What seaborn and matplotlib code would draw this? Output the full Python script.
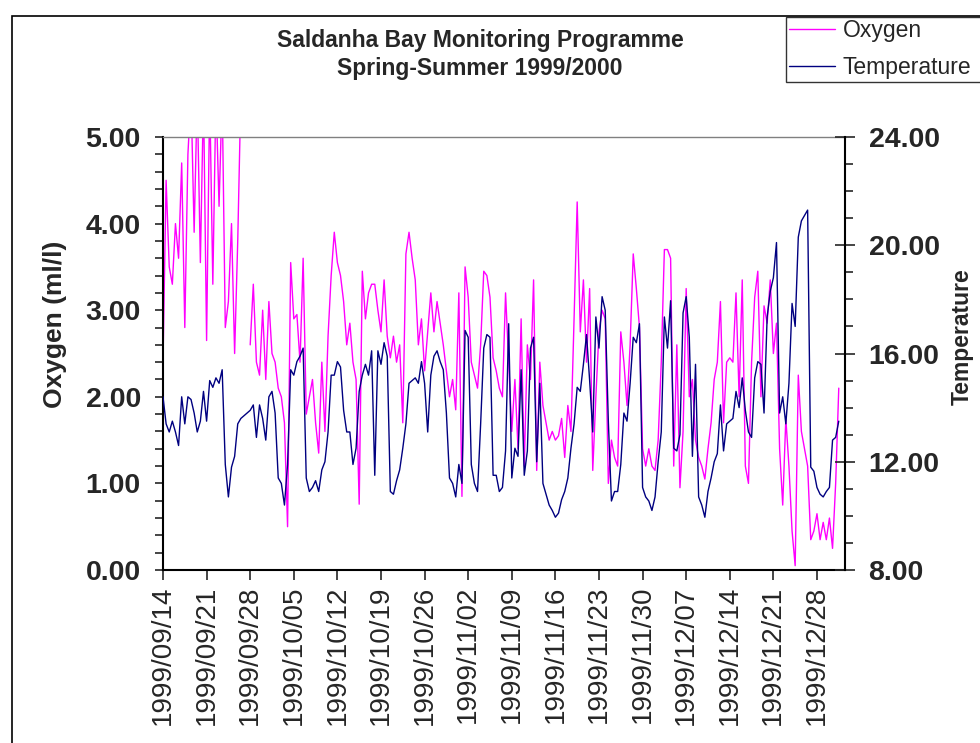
# Saldanha Bay monitoring - oxygen and temperature, spring-summer 1999/2000
import numpy as np
import pandas as pd
import matplotlib
matplotlib.use('Agg')
import matplotlib.pyplot as plt
from matplotlib.lines import Line2D
from matplotlib.patches import Rectangle
from matplotlib.ticker import MultipleLocator
import seaborn as sns

# readings every half day from 1999/09/14 00:00
start_date = '1999-09-14'
step_days = 0.5

oxygen = [
    # 09/14 - 10/01
    2.4, 4.5, 3.5, 3.3, 4.0, 3.6, 4.7, 2.8, 4.8, 5.5, 3.9, 5.5, 3.55, 5.5, 2.65, 5.5, 3.3, 5.5,
    4.2, 5.5, 2.8, 3.1, 4.0, 2.5, 3.8, 5.5, np.nan, np.nan, 2.6, 3.3, 2.4, 2.25, 3.0, 2.2, 3.1, 2.5,
    # 10/02 - 10/20
    2.4, 2.1, 2.0, 1.7, 0.5, 3.55, 2.9, 2.95, 2.4, 3.6, 1.8, 2.0, 2.2, 1.7, 1.35, 2.4, 1.6, 2.7,
    3.4, 3.9, 3.55, 3.4, 3.1, 2.6, 2.85, 2.4, 2.2, 0.76, 3.45, 2.9, 3.2, 3.3, 3.3, 3.0, 2.75, 3.35, 2.7,
    # 10/20 - 11/07
    2.45, 2.7, 2.4, 2.6, 1.7, 3.65, 3.9, 3.6, 3.35, 2.6, 2.9, 2.3, 2.75, 3.2, 2.75, 3.1, 2.85, 2.6,
    2.3, 2.0, 2.2, 1.85, 3.2, 0.85, 3.5, 3.15, 2.4, 2.25, 2.1, 2.6, 3.45, 3.4, 3.15, 2.45, 2.3, 2.1, 2.0,
    # 11/08 - 11/25
    3.2, 2.4, 1.6, 2.2, 1.4, 2.9, 1.2, 2.6, 2.2, 3.35, 1.15, 2.4, 1.9, 1.7, 1.5, 1.6, 1.5, 1.55,
    1.75, 1.3, 1.9, 1.6, 2.9, 4.25, 2.75, 3.35, 2.4, 3.25, 1.15, 2.0, 2.75, 3.0, 2.9, 1.0, 1.5, 1.3,
    # 11/26 - 12/14
    1.2, 2.75, 2.4, 1.9, 2.6, 3.65, 3.25, 2.8, 1.4, 1.2, 1.4, 1.2, 1.15, 1.5, 2.4, 3.7, 3.7, 3.6,
    1.2, 2.6, 0.95, 1.6, 3.25, 2.0, 2.2, 1.5, 1.3, 1.2, 1.05, 1.4, 1.7, 2.2, 2.4, 3.1, 1.7, 2.4, 2.45,
    # 12/14 - 12/31
    2.4, 3.2, 2.0, 3.35, 1.2, 1.0, 2.4, 3.15, 3.45, 2.0, 3.05, 2.85, 3.35, 2.5, 2.85, 1.4, 0.75, 1.75,
    1.2, 0.45, 0.05, 2.25, 1.6, 1.4, 1.2, 0.35, 0.45, 0.65, 0.35, 0.55, 0.35, 0.6, 0.25, 1.0, 2.1,
]

temperature = [
    # 09/14 - 10/01
    14.4, 13.4, 13.1, 13.5, 13.1, 12.6, 14.4, 13.4, 14.4, 14.3, 13.8, 13.1, 13.5, 14.6, 13.5, 15.0, 14.75, 15.1,
    14.9, 15.4, 11.9, 10.7, 11.8, 12.2, 13.4, 13.6, 13.7, 13.8, 13.9, 14.1, 12.9, 14.1, 13.6, 12.8, 14.4, 14.6,
    # 10/02 - 10/20
    13.8, 11.4, 11.2, 10.4, 11.9, 15.4, 15.2, 15.7, 15.9, 16.2, 11.4, 10.9, 11.05, 11.3, 10.9, 11.7, 12.0, 13.1,
    15.2, 15.2, 15.7, 15.5, 13.9, 13.1, 13.1, 11.9, 12.5, 14.6, 15.2, 15.6, 15.2, 16.1, 11.5, 16.1, 15.6, 16.4, 15.9,
    # 10/20 - 11/07
    10.9, 10.8, 11.3, 11.7, 12.5, 13.4, 14.9, 15.0, 15.1, 14.9, 15.7, 14.9, 13.1, 15.2, 15.9, 16.1, 15.7, 15.4,
    13.8, 11.4, 11.2, 10.7, 11.9, 11.2, 16.85, 16.6, 11.9, 11.2, 10.9, 13.4, 16.2, 16.7, 16.6, 11.5, 11.5, 10.9, 11.05,
    # 11/08 - 11/25
    12.4, 17.1, 11.4, 12.5, 12.2, 15.4, 11.5, 12.4, 16.2, 16.6, 12.0, 14.9, 11.2, 10.8, 10.4, 10.2, 9.95, 10.1,
    10.6, 10.9, 11.4, 12.5, 13.4, 14.75, 14.6, 15.6, 16.7, 15.0, 13.1, 17.35, 16.2, 18.1, 17.6, 13.5, 10.55, 10.9,
    # 11/26 - 12/14
    10.9, 11.9, 13.8, 13.5, 14.9, 16.6, 16.4, 17.1, 11.05, 10.7, 10.55, 10.2, 10.7, 12.0, 13.1, 17.35, 16.2, 17.95,
    12.5, 12.4, 13.0, 17.5, 18.1, 16.6, 12.2, 15.6, 10.7, 10.4, 9.95, 10.9, 11.4, 12.0, 12.3, 14.1, 12.4, 13.4, 13.5,
    # 12/14 - 12/31
    13.6, 14.6, 14.0, 15.1, 13.9, 13.1, 12.9, 15.1, 15.7, 15.6, 13.8, 17.35, 18.3, 18.8, 20.1, 13.8, 14.4, 13.4,
    14.9, 17.85, 17.0, 20.3, 20.9, 21.1, 21.3, 11.8, 11.65, 11.05, 10.8, 10.7, 10.9, 11.05, 12.8, 12.9, 13.5,
]

date_ticks = pd.date_range('1999-09-14', '1999-12-28', freq='7D')
oxygen_ticks = [0, 1, 2, 3, 4, 5]
temperature_ticks = [8, 12, 16, 20, 24]

df = pd.DataFrame({
    'date': pd.Timestamp(start_date) + pd.to_timedelta(np.arange(len(oxygen)) * step_days, unit='D'),
    'oxygen': oxygen,
    'temperature': temperature,
})
# break the oxygen line where the logger had no data
df['segment'] = df['oxygen'].isna().cumsum()

sns.set_style('white')
plt.rcParams['font.family'] = ['Liberation Sans', 'DejaVu Sans']

W, H = 980, 743
fig = plt.figure(figsize=(9.8, 7.43), dpi=100)
ax = fig.add_axes([163 / W, 1 - 570 / H, (845 - 163) / W, (570 - 137) / H])
ax2 = ax.twinx()

sns.lineplot(data=df.dropna(subset=['oxygen']), x='date', y='oxygen', units='segment',
             estimator=None, color='#FF00FF', lw=1.0, ax=ax)
sns.lineplot(data=df, x='date', y='temperature', estimator=None, color='#000080', lw=1.0, ax=ax2)

ax.set_xlim(pd.Timestamp('1999-09-14'), pd.Timestamp('2000-01-01 12:00'))
ax.set_ylim(0, 5)
ax2.set_ylim(8, 24)

ax.set_xticks(date_ticks)
ax.set_xticklabels([d.strftime('%Y/%m/%d') for d in date_ticks], rotation=90, fontsize=20)
ax.tick_params(axis='x', direction='out', length=7, width=1.2, pad=4, bottom=True)

ax.set_yticks(oxygen_ticks)
ax.set_yticklabels(['%.2f' % v for v in oxygen_ticks], fontsize=20.5, fontweight='bold')
ax.yaxis.set_minor_locator(MultipleLocator(0.2))
ax.tick_params(axis='y', which='both', direction='out', length=6, width=1.2, pad=10, left=True)

ax2.set_yticks(temperature_ticks)
ax2.set_yticklabels(['%.2f' % v for v in temperature_ticks], fontsize=20.5, fontweight='bold')
ax2.yaxis.set_minor_locator(MultipleLocator(1))
ax2.tick_params(axis='y', which='major', direction='inout', length=14, width=1.2, pad=10, right=True)
ax2.tick_params(axis='y', which='minor', direction='out', length=6, width=1.2, right=True)

ax.set_xlabel('')
ax.set_ylabel('Oxygen (ml/l)', fontsize=19, fontweight='bold')
ax.yaxis.set_label_coords(-0.141, 0.568)
ax2.set_ylabel('Temperature', fontsize=16.5, fontweight='bold')
ax2.yaxis.set_label_coords(1.155, 0.54)

for s in ['left', 'bottom']:
    ax.spines[s].set_color('black')
    ax.spines[s].set_linewidth(1.5)
ax.spines['right'].set_visible(False)
ax.spines['top'].set_color('#808080')
ax.spines['top'].set_linewidth(1.0)
ax2.spines[['left', 'bottom', 'top']].set_visible(False)
ax2.spines['right'].set_color('black')
ax2.spines['right'].set_linewidth(1.5)

fig.text(480 / W, 1 - 40 / H, 'Saldanha Bay Monitoring Programme', ha='center', va='center',
         fontsize=16.5, fontweight='bold')
fig.text(480 / W, 1 - 68 / H, 'Spring-Summer 1999/2000', ha='center', va='center',
         fontsize=16.5, fontweight='bold')

# chart area border (cut off on the right and bottom like the original)
fig.add_artist(Rectangle((12 / W, -0.05), 1.0, 1 - 16 / H + 0.05, transform=fig.transFigure,
                         fill=False, edgecolor='black', lw=1.2))

# legend box runs past the right edge of the picture, as in the original
handles = [Line2D([], [], color='#FF00FF', lw=1.0), Line2D([], [], color='#000080', lw=1.0)]
leg = fig.legend(handles, ['Oxygen', 'Temperature'], loc='lower left', mode='expand',
                 bbox_to_anchor=(786 / W, 1 - 82 / H, 220 / W, 0.05), frameon=True, fancybox=False,
                 edgecolor='black', fontsize=16.5, handlelength=2.0, handletextpad=0.35,
                 borderpad=0.12, labelspacing=0.6, borderaxespad=0)
leg.get_frame().set_linewidth(1.0)
leg.set_zorder(10)

fig.savefig('out.png', dpi=100)
